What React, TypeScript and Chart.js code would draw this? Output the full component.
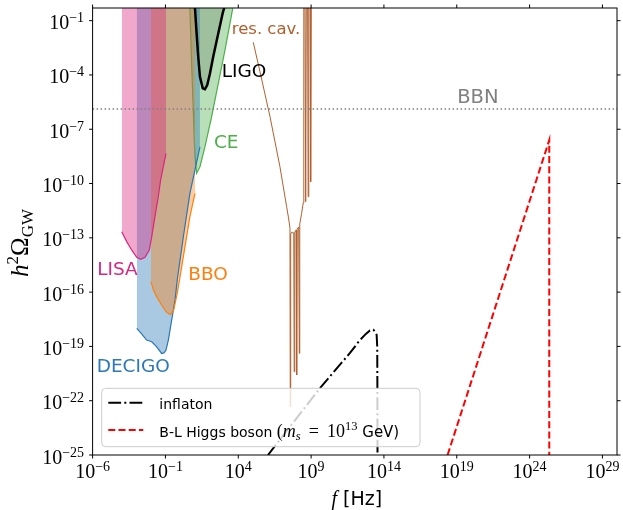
import { useEffect, useRef } from "react";
import { Chart, registerables } from "chart.js";

Chart.register(...registerables);

// ---- axes (log10 exponents) ----
const xTickExponents = [-6, -1, 4, 9, 14, 19, 24, 29];
const yTickExponents = [-25, -22, -19, -16, -13, -10, -7, -4, -1];
const xMin = 1e-6;
const xMax = 1e30;
const yMin = 1e-25;
const yMax = 0.5;

// ---- detector sensitivity curves: log10(f/Hz), log10(h^2 Omega_GW) ----
const lisaLogF = [-4.0, -3.66, -3.32, -2.97, -2.7, -2.4, -2.11, -1.94, -1.72, -1.49, -1.33, -0.96];
const lisaLogOmega = [-12.66, -13.21, -13.67, -14.08, -14.19, -14.08, -13.67, -12.94, -11.83, -10.73, -9.8, -8.33];

const decigoLogF = [-2.97, -2.68, -2.29, -1.94, -1.6, -1.26, -1.1, -0.96, -0.8, -0.57, -0.34, -0.19, 0.23, 0.68, 1.37];
const decigoLogOmega = [-18.0, -18.26, -18.65, -18.74, -19.02, -19.39, -19.36, -19.2, -18.65, -17.54, -16.43, -15.33, -12.94, -10.54, -7.97];

const bboLogF = [-1.99, -1.83, -1.6, -1.26, -0.96, -0.69, -0.46, -0.19, 0.23, 0.68, 1.03];
const bboLogOmega = [-15.42, -15.88, -16.25, -16.71, -17.08, -17.23, -17.08, -16.07, -14.04, -11.83, -10.54];

const ceLogF = [0.68, 0.79, 0.91, 0.96, 1.03, 1.14, 1.37, 1.71, 2.17, 2.63, 3.09, 3.43, 3.62];
const ceLogOmega = [-0.3, -3.17, -5.94, -7.21, -8.52, -9.43, -9.07, -7.97, -6.31, -4.46, -2.62, -1.15, -0.32];

const ligoLogF = [0.99, 1.03, 1.14, 1.25, 1.37, 1.56, 1.71, 1.87, 2.06, 2.28, 2.63, 2.93, 3.09, 3.12];
const ligoLogOmega = [0.0, -0.32, -1.7, -2.99, -4.1, -4.74, -4.79, -4.56, -3.91, -2.99, -1.7, -0.59, -0.13, 0.0];

const resCavLogF = [5.03, 5.49, 6.18, 6.86, 7.32, 7.45, 7.55, 7.57, 7.6, 7.69, 7.81, 7.84, 7.88, 7.97, 8.01, 8.04, 8.15, 8.19, 8.22, 8.35, 8.46, 8.5, 8.58, 8.63, 8.67, 8.76, 8.8, 8.84, 8.93, 8.97, 9.01];
const resCavLogOmega = [-2.2, -3.82, -6.31, -9.07, -11.28, -11.9, -12.46, -22.33, -12.79, -12.68, -12.73, -20.4, -12.68, -12.57, -20.58, -12.51, -12.4, -19.38, -12.23, -11.65, -11.07, 0, 0, -11.0, 0, 0, -10.73, 0, 0, -9.9, 0];

// ---- signals ----
const inflatonLogF = [6.04, 9.61, 11.67, 12.35, 12.76, 13.04, 13.27, 13.42, 13.5, 13.54, 13.55, 13.56];
const inflatonLogOmega = [-25.0, -21.3, -19.36, -18.65, -18.31, -18.12, -18.08, -18.2, -18.37, -19.02, -21.22, -25.4];

const higgsLogF = [18.37, 25.35, 25.35];
const higgsLogOmega = [-25.0, -7.6, -25.4];

const bbnLogF = [-6, 30];
const bbnLogOmega = [-5.88, -5.88];

// ---- text annotations (left edge / baseline in data coordinates) ----
const annotations = [
  { text: "LIGO", logF: 2.86, logOmega: -4.1, color: "#000000", size: 18.5 },
  { text: "CE", logF: 2.33, logOmega: -8.05, color: "rgb(77,175,74)", size: 18.5 },
  { text: "LISA", logF: -5.68, logOmega: -15.05, color: "rgb(217,38,127)", size: 18.5 },
  { text: "BBO", logF: 0.57, logOmega: -15.33, color: "rgb(255,127,14)", size: 18.5 },
  { text: "DECIGO", logF: -5.72, logOmega: -20.4, color: "rgb(45,120,185)", size: 18.5 },
  { text: "res. cav.", logF: 3.55, logOmega: -1.75, color: "#b0602f", size: 16.5 },
  { text: "BBN", logF: 19.03, logOmega: -5.57, color: "#808080", size: 19.5 },
];

const SERIF = '"Liberation Serif", "DejaVu Serif", serif';
const SANS = '"DejaVu Sans", sans-serif';

type Run = { t: string; font: string; dy?: number };

function runsWidth(ctx: CanvasRenderingContext2D, runs: Run[]) {
  let w = 0;
  for (const r of runs) {
    ctx.font = r.font;
    w += ctx.measureText(r.t).width;
  }
  return w;
}

function drawRuns(ctx: CanvasRenderingContext2D, runs: Run[], x: number, y: number, align: string) {
  const w = runsWidth(ctx, runs);
  let cx = align === "left" ? x : align === "center" ? x - w / 2 : x - w;
  ctx.textAlign = "left";
  ctx.textBaseline = "alphabetic";
  for (const r of runs) {
    ctx.font = r.font;
    ctx.fillText(r.t, cx, y + (r.dy || 0));
    cx += ctx.measureText(r.t).width;
  }
}

function supText(e: number) {
  return e < 0 ? "\u2212" + Math.abs(e) : String(e);
}

function toPoints(fs: number[], os: number[]) {
  return fs.map((f, i) => ({ x: Math.pow(10, f), y: Math.pow(10, os[i]) }));
}

const decorPlugin = {
  id: "decor",
  afterDraw(chart: any) {
    const ctx: CanvasRenderingContext2D = chart.ctx;
    const { left, right, top, bottom } = chart.chartArea;
    const xs = chart.scales.x;
    const ys = chart.scales.y;
    ctx.save();

    // annotations
    for (const a of annotations) {
      ctx.fillStyle = a.color;
      ctx.font = `${a.size}px ${SANS}`;
      ctx.textAlign = "left";
      ctx.textBaseline = "alphabetic";
      ctx.fillText(a.text, xs.getPixelForValue(Math.pow(10, a.logF)), ys.getPixelForValue(Math.pow(10, a.logOmega)));
    }

    // legend
    const lw = 318.3;
    const lh = 58.4;
    const lx = left + 9.1;
    const ly = bottom - 8.3 - lh;
    ctx.beginPath();
    if ((ctx as any).roundRect) (ctx as any).roundRect(lx, ly, lw, lh, 4);
    else ctx.rect(lx, ly, lw, lh);
    ctx.fillStyle = "rgba(255,255,255,0.8)";
    ctx.fill();
    ctx.strokeStyle = "#cccccc";
    ctx.lineWidth = 1;
    ctx.stroke();

    ctx.lineCap = "butt";
    ctx.beginPath();
    ctx.setLineDash([12.8, 3.2, 2, 3.2]);
    ctx.strokeStyle = "#000";
    ctx.lineWidth = 2;
    ctx.moveTo(lx + 6.6, ly + 14.4);
    ctx.lineTo(lx + 41.6, ly + 14.4);
    ctx.stroke();
    ctx.beginPath();
    ctx.setLineDash([7, 3.2]);
    ctx.strokeStyle = "#ff0000";
    ctx.moveTo(lx + 6.6, ly + 41.7);
    ctx.lineTo(lx + 41.6, ly + 41.7);
    ctx.stroke();
    ctx.setLineDash([]);

    ctx.fillStyle = "#000";
    drawRuns(ctx, [{ t: "inflaton", font: `14px ${SANS}` }], lx + 57.6, ly + 20.7, "left");
    drawRuns(
      ctx,
      [
        { t: "B-L Higgs boson ", font: `14px ${SANS}` },
        { t: "(", font: `18px ${SERIF}` },
        { t: "m", font: `italic 18px ${SERIF}` },
        { t: "s", font: `italic 12.5px ${SERIF}`, dy: 3 },
        { t: " \u2009=\u2009 ", font: `18px ${SERIF}` },
        { t: "10", font: `18px ${SERIF}` },
        { t: "13", font: `12.5px ${SERIF}`, dy: -7 },
        { t: " GeV)", font: `15px ${SANS}` },
      ],
      lx + 57.6,
      ly + 48.2,
      "left"
    );

    // frame
    ctx.strokeStyle = "#000";
    ctx.lineWidth = 1;
    ctx.strokeRect(left, top, right - left, bottom - top);

    // ticks + labels
    ctx.beginPath();
    for (const e of xTickExponents) {
      const px = xs.getPixelForValue(Math.pow(10, e));
      ctx.moveTo(px, bottom);
      ctx.lineTo(px, bottom + 3.5);
      ctx.moveTo(px, top);
      ctx.lineTo(px, top - 3.5);
    }
    for (const e of yTickExponents) {
      const py = ys.getPixelForValue(Math.pow(10, e));
      ctx.moveTo(left, py);
      ctx.lineTo(left - 3.5, py);
      ctx.moveTo(right, py);
      ctx.lineTo(right + 3.5, py);
    }
    ctx.stroke();

    ctx.fillStyle = "#000";
    for (const e of xTickExponents) {
      const px = xs.getPixelForValue(Math.pow(10, e));
      drawRuns(
        ctx,
        [
          { t: "10", font: `20px ${SERIF}` },
          { t: supText(e), font: `14px ${SERIF}`, dy: -7 },
        ],
        px,
        bottom + 23.3,
        "center"
      );
    }
    for (const e of yTickExponents) {
      const py = ys.getPixelForValue(Math.pow(10, e));
      drawRuns(
        ctx,
        [
          { t: "10", font: `20px ${SERIF}` },
          { t: supText(e), font: `14px ${SERIF}`, dy: -7 },
        ],
        left - 8.5,
        py + 8.5,
        "right"
      );
    }

    // axis titles
    drawRuns(
      ctx,
      [
        { t: "f", font: `italic 20px ${SERIF}` },
        { t: " [Hz]", font: `19px ${SANS}` },
      ],
      (left + right) / 2 + 2,
      505,
      "center"
    );
    ctx.save();
    ctx.translate(28, 243);
    ctx.rotate(-Math.PI / 2);
    drawRuns(
      ctx,
      [
        { t: "h", font: `italic 25px ${SERIF}` },
        { t: "2", font: `17px ${SERIF}`, dy: -10 },
        { t: "\u03A9", font: `25px ${SERIF}` },
        { t: "GW", font: `17px ${SERIF}`, dy: 4.5 },
      ],
      0,
      0,
      "center"
    );
    ctx.restore();

    ctx.restore();
  },
};

export default function App() {
  const ref = useRef<HTMLCanvasElement>(null);

  useEffect(() => {
    const canvas = ref.current;
    if (!canvas) return;

    const fillLayer = (fs: number[], os: number[], color: string) => ({
      data: toPoints(fs, os),
      fill: "end",
      backgroundColor: color,
      borderColor: "transparent",
      borderWidth: 0,
      pointRadius: 0,
    });
    const lineLayer = (fs: number[], os: number[], color: string, width: number, dash: number[] = []) => ({
      data: toPoints(fs, os),
      fill: false,
      borderColor: color,
      borderWidth: width,
      borderDash: dash,
      borderCapStyle: "butt",
      pointRadius: 0,
    });

    // bottom -> top
    const layers: any[] = [
      fillLayer(ceLogF, ceLogOmega, "rgba(77,175,74,0.4)"),
      lineLayer(ceLogF, ceLogOmega, "rgb(77,175,74)", 1.2),
      fillLayer(ligoLogF, ligoLogOmega, "rgba(0,0,0,0.14)"),
      fillLayer(decigoLogF, decigoLogOmega, "rgba(40,118,180,0.4)"),
      fillLayer(bboLogF, bboLogOmega, "rgba(255,127,14,0.4)"),
      fillLayer(lisaLogF, lisaLogOmega, "rgba(217,38,127,0.4)"),
      lineLayer(decigoLogF, decigoLogOmega, "rgb(40,118,180)", 1.2),
      lineLayer(bboLogF, bboLogOmega, "rgb(255,127,14)", 1.2),
      lineLayer(lisaLogF, lisaLogOmega, "rgb(217,38,127)", 1.2),
      lineLayer(ligoLogF, ligoLogOmega, "#000000", 2.5),
      lineLayer(resCavLogF, resCavLogOmega, "#b0602f", 1),
      lineLayer(bbnLogF, bbnLogOmega, "#808080", 1.5, [1.5, 2.5]),
      lineLayer(inflatonLogF, inflatonLogOmega, "#000000", 2, [12.8, 3.2, 2, 3.2]),
      lineLayer(higgsLogF, higgsLogOmega, "#ff0000", 2, [7, 3.2]),
    ];
    const n = layers.length;
    const datasets = layers.map((d, i) => ({ ...d, order: n - i }));

    const chart = new Chart(canvas, {
      type: "line",
      data: { datasets },
      options: {
        animation: false,
        responsive: false,
        events: [],
        layout: { padding: { left: 92.6, right: 6, top: 8, bottom: 55 } },
        scales: {
          x: { type: "logarithmic", min: xMin, max: xMax, display: false },
          y: { type: "logarithmic", min: yMin, max: yMax, display: false },
        },
        elements: { line: { tension: 0 }, point: { radius: 0 } },
        plugins: { legend: { display: false }, tooltip: { enabled: false } },
      },
      plugins: [decorPlugin],
    } as any);

    return () => chart.destroy();
  }, []);

  return (
    <div style={{ position: "absolute", left: 0, top: 0, width: 623, height: 510, background: "#ffffff" }}>
      <canvas ref={ref} width={623} height={510} style={{ display: "block", width: 623, height: 510 }} />
    </div>
  );
}
